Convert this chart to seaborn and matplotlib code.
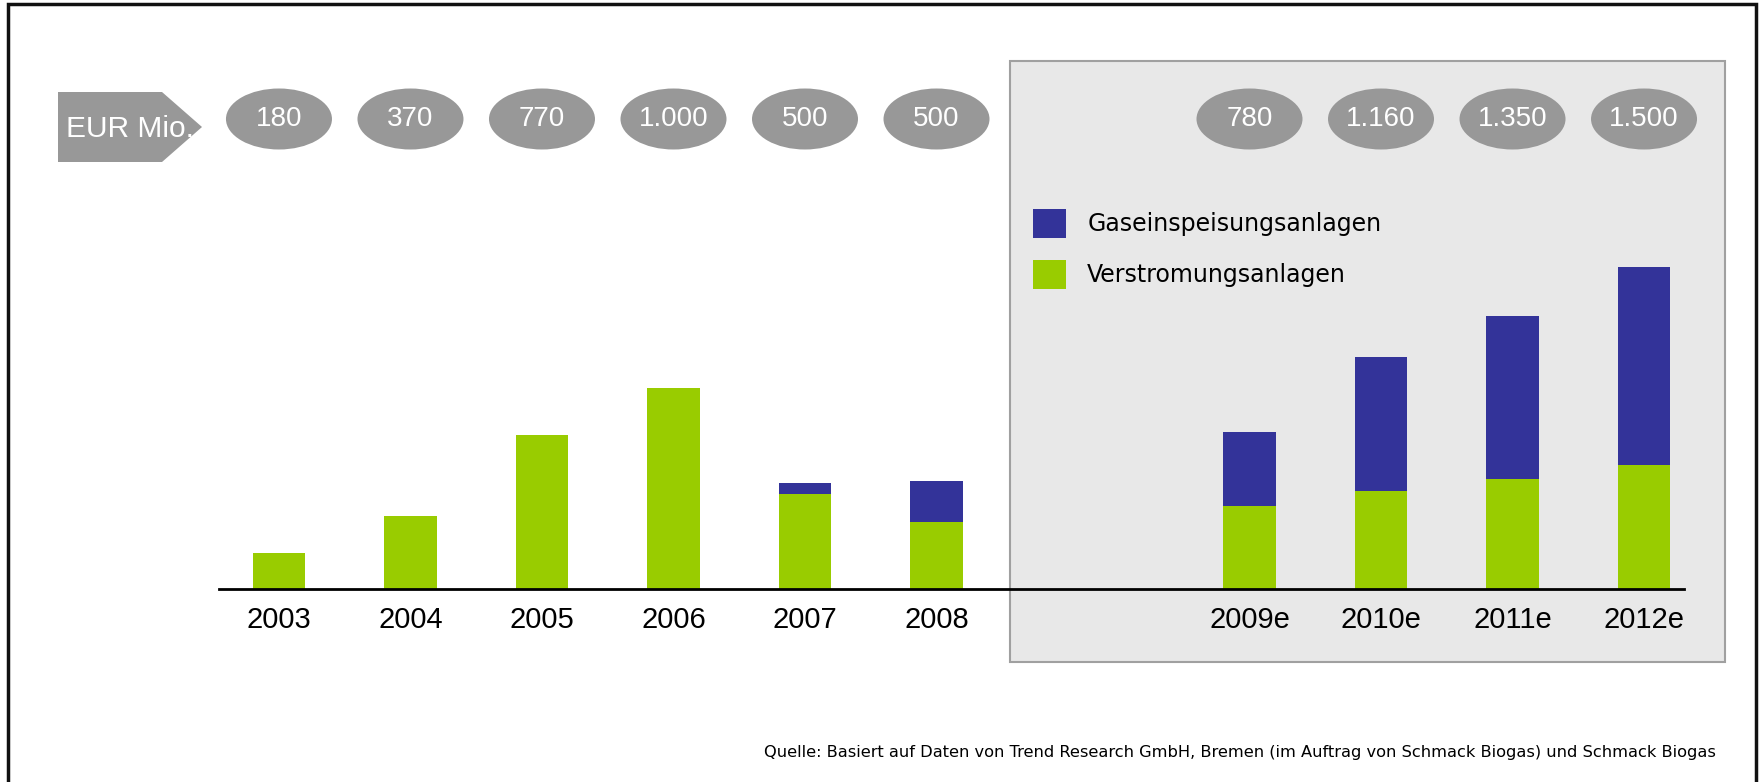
import numpy as np
import pandas as pd
import matplotlib
matplotlib.use("Agg")
import matplotlib.pyplot as plt
import seaborn as sns
from matplotlib.patches import Rectangle, Ellipse, Polygon, Patch
from matplotlib.transforms import blended_transform_factory

# ---------------- data ----------------
years = ["2003", "2004", "2005", "2006", "2007", "2008",
         "2009e", "2010e", "2011e", "2012e"]
verstromung = [180, 365, 765, 1000, 475, 335, 415, 490, 545, 615]
gaseinspeisung = [0, 0, 0, 0, 50, 200, 365, 665, 815, 985]
bubble_labels = ["180", "370", "770", "1.000", "500", "500",
                 "780", "1.160", "1.350", "1.500"]
series_names = ["Gaseinspeisungsanlagen", "Verstromungsanlagen"]
unit_label = "EUR Mio."
source_text = ("Quelle: Basiert auf Daten von Trend Research GmbH, Bremen "
               "(im Auftrag von Schmack Biogas) und Schmack Biogas")

# ---------------- layout / style ----------------
W, H = 1760, 782
BLUE = "#333399"
GREEN = "#99CC00"
BUBBLE = "#989898"
slot = [0, 1, 2, 3, 4, 5, 7.38, 8.38, 9.38, 10.38]

sns.set_theme(style="white")
plt.rcParams["font.family"] = ["Liberation Sans", "DejaVu Sans"]
plt.rcParams["text.color"] = "black"


def fx(p):
    return p / W


def fy(p):
    return 1 - p / H


fig = plt.figure(figsize=(W / 100, H / 100), dpi=100)
fig.patch.set_facecolor("white")

# shaded forecast panel
fig.add_artist(Rectangle((fx(1010), fy(662)), fx(1725) - fx(1010), fy(61) - fy(662),
                         transform=fig.transFigure, facecolor="#E8E8E8",
                         edgecolor="#A0A0A0", lw=1.5, zorder=0.5))

ax = fig.add_axes([fx(219), fy(589), fx(1684) - fx(219), fy(200) - fy(589)])
ax.set_zorder(2)
ax.patch.set_visible(False)

df = pd.DataFrame({
    "slot": slot,
    "gesamt": np.array(verstromung) + np.array(gaseinspeisung),
    "verstromung": verstromung,
})
sns.barplot(data=df, x="slot", y="gesamt", native_scale=True, width=0.4,
            color=BLUE, saturation=1, errorbar=None, linewidth=0, ax=ax)
sns.barplot(data=df, x="slot", y="verstromung", native_scale=True, width=0.4,
            color=GREEN, saturation=1, errorbar=None, linewidth=0, ax=ax)

ax.set_xlim(-0.456, 10.684)
ax.set_ylim(0, 389 / 0.201)
ax.set_xticks(slot)
ax.set_xticklabels(years, fontsize=21, color="black")
ax.set_yticks([])
ax.tick_params(axis="x", length=0, pad=12)
ax.set_xlabel("")
ax.set_ylabel("")
for s in ["top", "left", "right"]:
    ax.spines[s].set_visible(False)
ax.spines["bottom"].set_color("black")
ax.spines["bottom"].set_linewidth(2)

# value bubbles
tr = blended_transform_factory(ax.transData, fig.transFigure)
for x, lab in zip(slot, bubble_labels):
    e = Ellipse((x, fy(119)), 106 / 131.5, 61 / H, transform=tr,
                facecolor=BUBBLE, edgecolor="none", clip_on=False, zorder=3)
    ax.add_artist(e)
    ax.text(x, fy(119), lab, transform=tr, ha="center", va="center",
            color="white", fontsize=20, clip_on=False, zorder=4)

# unit arrow
fig.add_artist(Polygon([(fx(58), fy(92)), (fx(162), fy(92)), (fx(202), fy(127)),
                        (fx(162), fy(162)), (fx(58), fy(162))],
                       closed=True, transform=fig.transFigure,
                       facecolor=BUBBLE, edgecolor="none", zorder=3))
fig.text(fx(66), fy(129), unit_label, ha="left", va="center", color="white",
         fontsize=21.5, zorder=4)

# legend
handles = [Patch(facecolor=BLUE, edgecolor="none", label=series_names[0]),
           Patch(facecolor=GREEN, edgecolor="none", label=series_names[1])]
fig.legend(handles=handles, loc="upper left",
           bbox_to_anchor=(fx(1033), fy(209)), bbox_transform=fig.transFigure,
           frameon=False, prop={"family": "DejaVu Sans", "size": 17},
           labelcolor="black",
           handlelength=1.4, handleheight=1.51, handletextpad=0.9,
           labelspacing=0.92, borderpad=0, borderaxespad=0)

# source
fig.text(fx(1716), fy(752), source_text, ha="right", va="center",
         fontsize=11.7, family="DejaVu Sans", color="black")

# outer frame
fig.add_artist(Rectangle((fx(8), fy(795)), fx(1756) - fx(8), fy(4) - fy(795),
                         transform=fig.transFigure, fill=False,
                         edgecolor="#111111", lw=2.5, zorder=5))

fig.savefig("out.png", dpi=100)
